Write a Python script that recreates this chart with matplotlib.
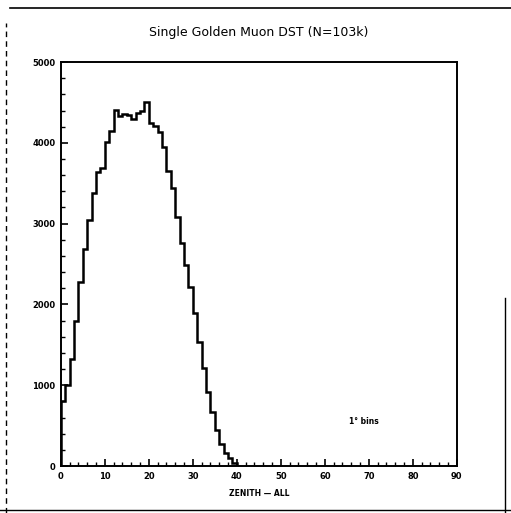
import numpy as np
import matplotlib
matplotlib.use("Agg")
import matplotlib.pyplot as plt
from matplotlib.lines import Line2D

# contagens por bin de 1 grau (zenite 0..40)
zenith_edges = list(range(0, 41))
counts = [800, 1000, 1330, 1790, 2280, 2690, 3040, 3380, 3640, 3690,
          4010, 4150, 4410, 4330, 4360, 4350, 4300, 4370, 4400, 4500,
          4250, 4210, 4140, 3950, 3650, 3440, 3085, 2756, 2490, 2220,
          1890, 1540, 1210, 920, 672, 446, 270, 160, 95, 40]

x_major = [0, 10, 20, 30, 40, 50, 60, 70, 80, 90]
y_major = [0, 1000, 2000, 3000, 4000, 5000]

title = "Single Golden Muon DST (N=103k)"
xlabel = "ZENITH \u2014 ALL"
note = "1\u00b0 bins"

fig = plt.figure(figsize=(5.11, 5.13), dpi=100)
ax = fig.add_axes([0.119, 0.0916, 0.775, 0.7874])

# histograma em degraus
ax.stairs(counts, zenith_edges, color="black", linewidth=1.8)

ax.set_xlim(0, 90)
ax.set_ylim(0, 5000)
ax.set_xticks(x_major)
ax.set_xticks(np.arange(0, 91, 2), minor=True)
ax.set_yticks(y_major)
ax.set_yticks(np.arange(0, 5001, 200), minor=True)
ax.tick_params(direction="in", which="major", length=5, width=1.2,
               labelsize=6, pad=4)
ax.tick_params(direction="in", which="minor", length=3, width=1.0)
for lab in ax.get_xticklabels() + ax.get_yticklabels():
    lab.set_fontweight("bold")
for sp in ax.spines.values():
    sp.set_linewidth(1.4)

ax.set_xlabel(xlabel, fontsize=5.5, fontweight="bold", labelpad=6)
fig.text(0.507, 0.937, title, ha="center", va="center", fontsize=9)
ax.text(65.5, 545, note, fontsize=5.5, fontweight="bold", va="center")

# moldura da pagina escaneada
fig.add_artist(Line2D([0.02, 1.0], [0.985, 0.985], color="black", lw=1.2))
fig.add_artist(Line2D([0.012, 0.012], [0.0, 0.955], color="black", lw=1.0,
                      linestyle=(0, (4, 3))))
fig.add_artist(Line2D([0.988, 0.988], [0.0, 0.42], color="black", lw=1.0))
fig.add_artist(Line2D([0.0, 1.0], [0.006, 0.006], color="black", lw=1.0))

fig.savefig("out.png", dpi=100)
